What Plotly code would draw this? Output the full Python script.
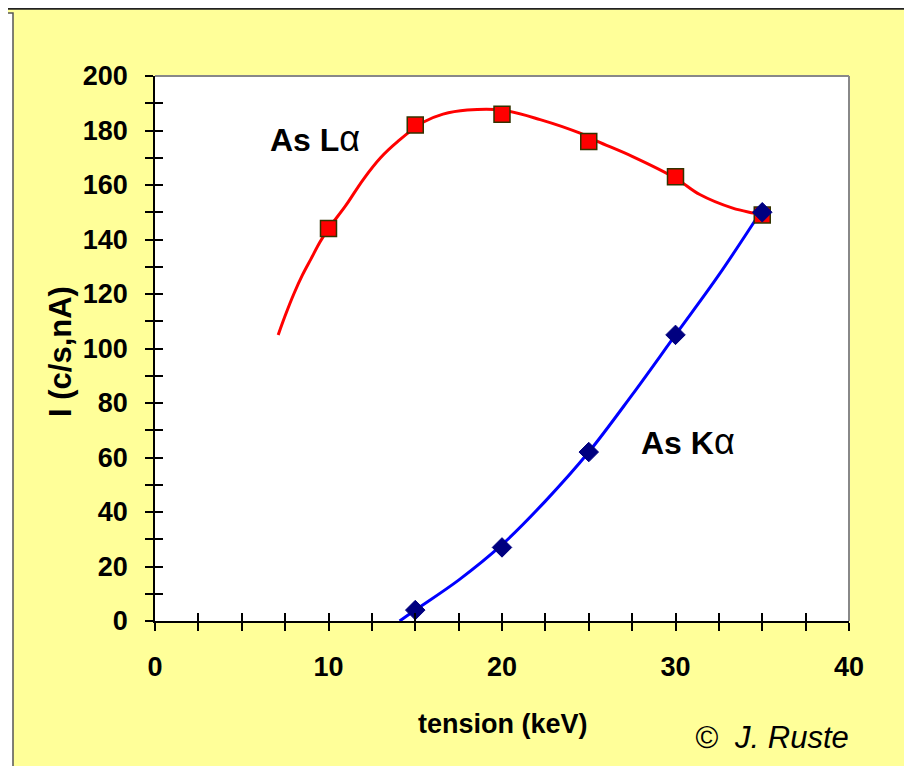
import plotly.graph_objects as go

# ---- data ----
la_x = [10, 15, 20, 25, 30, 35]
la_y = [144, 182, 186, 176, 163, 149]
ka_x = [15, 20, 25, 30, 35]
ka_y = [4, 27, 62, 105, 150]

la_curve_x = [7.1, 7.5, 8.0, 8.5, 9.0, 9.5, 10.0, 11.0, 12.0, 13.0, 14.0, 15.45, 16.6, 18.0, 20.0, 22.2, 24.5, 25.5, 27.5, 30.0, 31.4, 33.3, 34.5, 35.4]
la_curve_y = [105, 112, 120, 127, 133, 139, 144, 152.5, 162, 170, 176, 183, 186, 187.5, 187.5, 184, 179, 176, 170.5, 162.5, 156.5, 151.5, 149.7, 148.5]
ka_curve_x = [14.1, 15.0, 17.5, 20.0, 22.5, 25.0, 27.5, 30.0, 32.5, 35.0]
ka_curve_y = [0, 4, 15, 28, 44, 62, 83, 105, 127, 151]

x_tickvals = [0, 2.5, 5, 7.5, 10, 12.5, 15, 17.5, 20, 22.5, 25, 27.5, 30, 32.5, 35, 37.5, 40]
x_ticktext = ["0", "", "", "", "10", "", "", "", "20", "", "", "", "30", "", "", "", "40"]
y_tickvals = list(range(0, 201, 10))
y_ticktext = [str(v) if v % 20 == 0 else "" for v in y_tickvals]

YELLOW = "#FFFF99"
FONT = "Liberation Sans, Arial, sans-serif"

W, H = 912, 766
OFF = 8  # page body margin
L, R, T, B = 155 - OFF, W - (849 - OFF), 76 - OFF, H - (621 - OFF)
pw, ph = W - L - R, H - T - B


def px(xs):
    """screen x pixel -> paper x"""
    return (xs - OFF - L) / pw


def py(ys):
    """screen y pixel -> paper y"""
    return (H - B - (ys - OFF)) / ph


fig = go.Figure()

fig.add_trace(go.Scatter(x=la_curve_x, y=la_curve_y, mode="lines",
                         line=dict(color="#FF0000", width=3, shape="spline", smoothing=1.0),
                         hoverinfo="skip", showlegend=False))
fig.add_trace(go.Scatter(x=ka_curve_x, y=ka_curve_y, mode="lines",
                         line=dict(color="#0000FF", width=3, shape="spline", smoothing=1.0),
                         hoverinfo="skip", showlegend=False))
fig.add_trace(go.Scatter(x=la_x, y=la_y, mode="markers", name="As Lα",
                         marker=dict(symbol="square", size=16, color="#FF0000",
                                     line=dict(color="#333300", width=1.5)),
                         showlegend=False))
fig.add_trace(go.Scatter(x=ka_x, y=ka_y, mode="markers", name="As Kα",
                         marker=dict(symbol="diamond", size=15, color="#000080",
                                     line=dict(color="#000080", width=1)),
                         showlegend=False))
# invisible trace carrying the overlay axes (inner halves of the ticks)
fig.add_trace(go.Scatter(x=[0], y=[0], xaxis="x2", yaxis="y2", mode="markers",
                         marker=dict(opacity=0), hoverinfo="skip", showlegend=False))

axis_font = dict(family=FONT, size=27, color="black", weight="bold")

fig.update_layout(
    width=W, height=H,
    margin=dict(l=L, r=R, t=T, b=B),
    paper_bgcolor=YELLOW,
    plot_bgcolor="white",
    showlegend=False,
    font=dict(family=FONT, color="black"),
    xaxis=dict(range=[0, 40], tickvals=x_tickvals, ticktext=x_ticktext,
               ticks="outside", ticklen=8, tickwidth=1.5, tickcolor="black",
               showgrid=False, zeroline=False, showline=True, linecolor="black",
               linewidth=1.5, tickfont=axis_font, ticklabelstandoff=13),
    yaxis=dict(range=[0, 200], tickvals=y_tickvals, ticktext=y_ticktext,
               ticks="outside", ticklen=8, tickwidth=1.5, tickcolor="black",
               showgrid=False, zeroline=False, showline=True, linecolor="black",
               linewidth=1.5, tickfont=axis_font, ticklabelstandoff=12),
    xaxis2=dict(range=[0, 40], overlaying="x", anchor="y", side="bottom",
                tickvals=x_tickvals, ticks="inside", ticklen=8, tickwidth=1.5,
                tickcolor="black", showticklabels=False, showgrid=False,
                zeroline=False, showline=False),
    yaxis2=dict(range=[0, 200], overlaying="y", anchor="x", side="left",
                tickvals=y_tickvals, ticks="inside", ticklen=8, tickwidth=1.5,
                tickcolor="black", showticklabels=False, showgrid=False,
                zeroline=False, showline=False),
)

# plot-area frame (grey, top & right)
fig.add_shape(type="line", xref="x domain", yref="y domain", x0=0, x1=1, y0=1, y1=1,
              line=dict(color="#888888", width=2), layer="below")
fig.add_shape(type="line", xref="x domain", yref="y domain", x0=1, x1=1, y0=0, y1=1,
              line=dict(color="#888888", width=2), layer="below")

# window-like frame at the left / top edge
fig.add_shape(type="rect", xref="paper", yref="paper", x0=px(0), x1=px(13), y0=py(13), y1=py(790),
              fillcolor="white", line=dict(color="#555555", width=1.5))
fig.add_shape(type="line", xref="paper", yref="paper", x0=px(8), x1=px(930), y0=py(8.8), y1=py(8.8),
              line=dict(color="#222222", width=2))

# axis titles
fig.add_annotation(text="<b>tension (keV)</b>", xref="paper", yref="paper",
                   x=px(503), y=py(724), xanchor="center", yanchor="middle", showarrow=False,
                   font=dict(family=FONT, size=27, color="black"))
fig.add_annotation(text="<b>I (c/s,nA)</b>", xref="paper", yref="paper",
                   x=px(60), y=py(352), xanchor="center", yanchor="middle", showarrow=False,
                   textangle=-90, font=dict(family=FONT, size=31, color="black"))

# labels
fig.add_annotation(text="<b>As L</b><span style='font-size:36px'>α</span>", x=9.2, y=177,
                   xref="x", yref="y", showarrow=False,
                   xanchor="center", yanchor="middle",
                   font=dict(family=FONT, size=32, color="black"))
fig.add_annotation(text="<b>As K</b><span style='font-size:36px'>α</span>", x=30.7, y=65.7,
                   xref="x", yref="y", showarrow=False,
                   xanchor="center", yanchor="middle",
                   font=dict(family=FONT, size=32, color="black"))
fig.add_annotation(text="<i>©  J. Ruste</i>", xref="paper", yref="paper",
                   x=px(772), y=py(737), xanchor="center", yanchor="middle", showarrow=False,
                   font=dict(family=FONT, size=31, color="black"))

fig.write_html("out.html")
